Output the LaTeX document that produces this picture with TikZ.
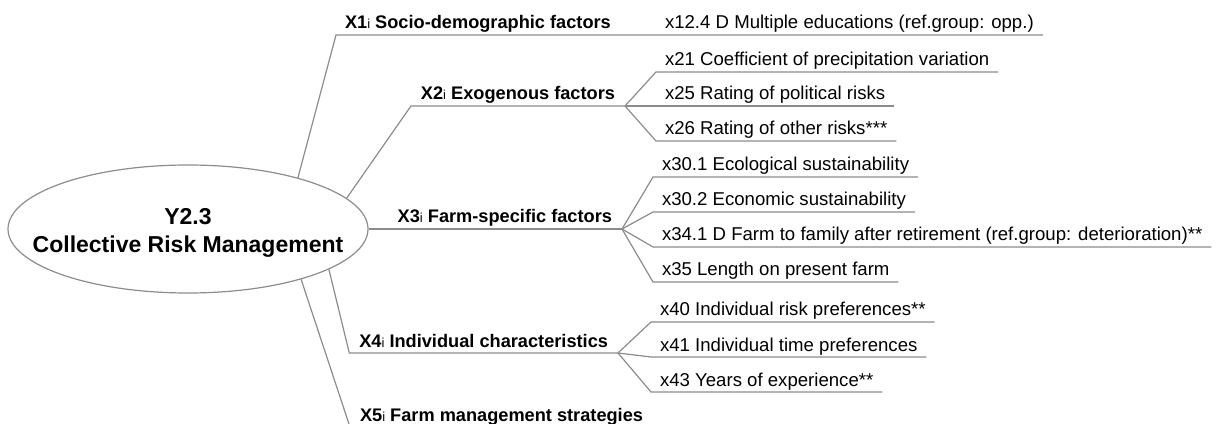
\documentclass[tikz,border=0pt]{standalone}
\usepackage{fontspec}
\setmainfont{Liberation Sans}
\usepackage{tikz}
\usetikzlibrary{shapes.geometric}

\definecolor{linegray}{RGB}{140,140,140}
\newcommand{\subi}{{\fontsize{13}{13}\selectfont\mdseries i}}

\begin{document}
\begin{tikzpicture}[
x=1pt, y=1pt,
root/.style={ellipse, draw=linegray, line width=1.2pt, minimum width=360pt, minimum height=128pt, inner sep=0pt},
rootlabel/.style={align=center, inner sep=0pt, font=\fontsize{23}{28}\selectfont\bfseries},
factor/.style={inner xsep=10pt, inner ysep=6pt, text depth=0pt, outer sep=0pt, font=\fontsize{18.2}{22}\selectfont\bfseries},
item/.style={anchor=south west, inner xsep=9pt, inner ysep=6pt, text depth=0pt, outer sep=0pt, font=\fontsize{18.6}{22}\selectfont},
link/.style={draw=linegray, line width=1.2pt}
]
\useasboundingbox (0,0) rectangle (1217,423);

% root
\node[root] (crm) at (188,194) {};
\node[rootlabel] (crmtext) at (188,190) {Y2.3\\Collective Risk Management};

% factor groups
\node[factor, anchor=south west, inner xsep=9pt] (x1) at (336,388) {X1\subi{} Socio-demographic factors};
\node[factor, anchor=south east] (x2) at (625,317) {X2\subi{} Exogenous factors};
\node[factor, anchor=south east] (x3) at (622,194) {X3\subi{} Farm-specific factors};
\node[factor, anchor=south east] (x4) at (618,70) {X4\subi{} Individual characteristics};
\node[factor, anchor=south west] (x5) at (350,-4) {X5\subi{} Farm management strategies};

% variables
\node[item] (x124) at (656,388) {x12.4 D Multiple educations (ref.group: opp.)};
\node[item] (x21) at (656,351) {x21 Coefficient of precipitation variation};
\node[item] (x25) at (656,317) {x25 Rating of political risks};
\node[item] (x26) at (656,282) {x26 Rating of other risks***};
\node[item] (x301) at (653,246) {x30.1 Ecological sustainability};
\node[item] (x302) at (653,211) {x30.2 Economic sustainability};
\node[item] (x341) at (653,176) {x34.1 D Farm to family after retirement (ref.group: deterioration)**};
\node[item] (x35) at (653,141) {x35 Length on present farm};
\node[item] (x40) at (651,101) {x40 Individual risk preferences**};
\node[item] (x41) at (651,66) {x41 Individual time preferences};
\node[item] (x43) at (651,31) {x43 Years of experience**};

% root to groups
\draw[link] (crm.25) -- (x1.south west) -- (x124.south east);
\draw[link] (crm.11) -- (x2.south west) -- (x2.south east);
\draw[link] (crm.east) -- (x3.south east);
\draw[link] (crm.-16) -- (x4.south west) -- (x4.south east);
\draw[link] (crm.-24) -- (x5.south west) -- (x5.south east);

% groups to variables
\draw[link] (x2.south east) -- (x21.south west) -- (x21.south east);
\draw[link] (x2.south east) -- (x25.south west) -- (x25.south east);
\draw[link] (x2.south east) -- (x26.south west) -- (x26.south east);
\draw[link] (x3.south east) -- (x301.south west) -- (x301.south east);
\draw[link] (x3.south east) -- (x302.south west) -- (x302.south east);
\draw[link] (x3.south east) -- (x341.south west) -- (x341.south east);
\draw[link] (x3.south east) -- (x35.south west) -- (x35.south east);
\draw[link] (x4.south east) -- (x40.south west) -- (x40.south east);
\draw[link] (x4.south east) -- (x41.south west) -- (x41.south east);
\draw[link] (x4.south east) -- (x43.south west) -- (x43.south east);

\end{tikzpicture}
\end{document}
